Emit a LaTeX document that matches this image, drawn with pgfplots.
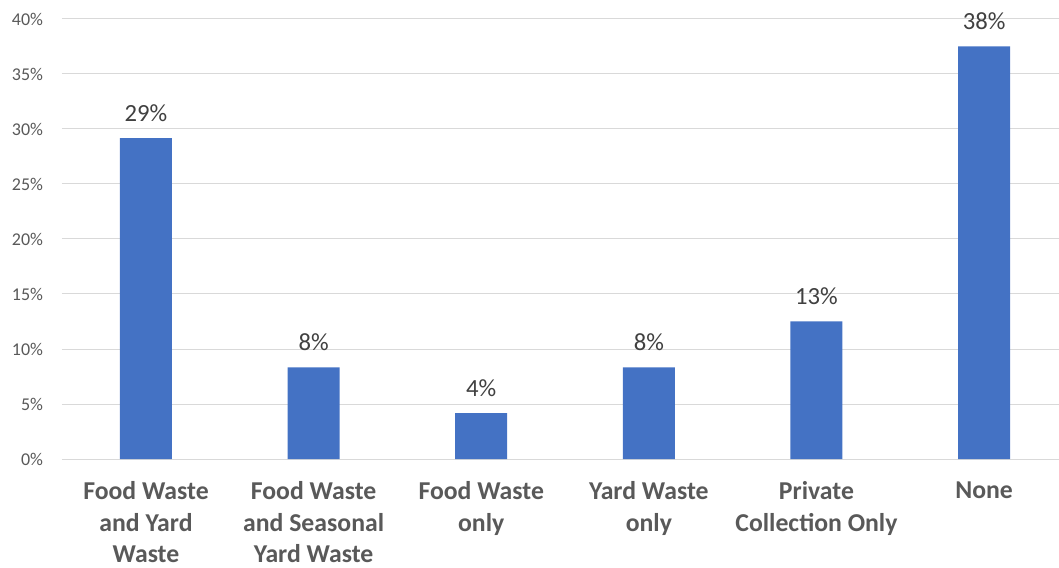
\documentclass[border=0pt]{standalone}
\usepackage{fontspec}
\setmainfont{Carlito}
\usepackage{pgfplots}
\pgfplotsset{compat=1.18}
\definecolor{barblue}{HTML}{4472C4}
\definecolor{gridgray}{HTML}{D9D9D9}
\definecolor{ticktext}{HTML}{595959}
\definecolor{labtext}{HTML}{404040}
\begin{document}
\begin{tikzpicture}
\begin{axis}[
  name=ax,
  scale only axis,
  width=747.75pt, height=330pt,
  xmin=-0.501, xmax=5.447,
  ymin=0, ymax=40,
  ytick={0,5,10,15,20,25,30,35,40},
  yticklabel={\pgfmathprintnumber{\tick}\%},
  /pgf/number format/assume math mode=true,
  yticklabel style={anchor=east, inner sep=0pt, xshift=-14pt, font=\fontsize{13.5}{16}\selectfont, text=ticktext},
  xtick=data,
  xticklabels={{Food Waste\\and Yard\\Waste},{Food Waste\\and Seasonal\\Yard Waste},{Food Waste\\only},{Yard Waste\\only},{Private\\Collection Only},{None}},
  xticklabel style={anchor=north, align=center, inner sep=0pt, yshift=-17pt, font=\fontsize{19.3}{23.6}\selectfont\bfseries, text=ticktext},
  major tick length=0pt,
  tick style={draw=none},
  axis line style={draw=none},
  ymajorgrids,
  grid style={gridgray, line width=0.75pt},
  ybar, bar width=0.31,
  clip=false,
  nodes near coords={\pgfmathprintnumber[fixed,precision=0]{\pgfplotspointmeta}\%},
  nodes near coords style={anchor=base, yshift=12.5pt, inner sep=0pt, font=\fontsize{18.5}{22}\selectfont, text=labtext},
]
\addplot[fill=barblue, draw=none] coordinates {(0,29.17) (1,8.33) (2,4.17) (3,8.33) (4,12.5) (5,37.5)};
\end{axis}
\pgfresetboundingbox
\path ([shift={(-46.5pt,-81pt)}]ax.south west) rectangle ([shift={(0pt,14.25pt)}]ax.north east);
\end{tikzpicture}
\end{document}
